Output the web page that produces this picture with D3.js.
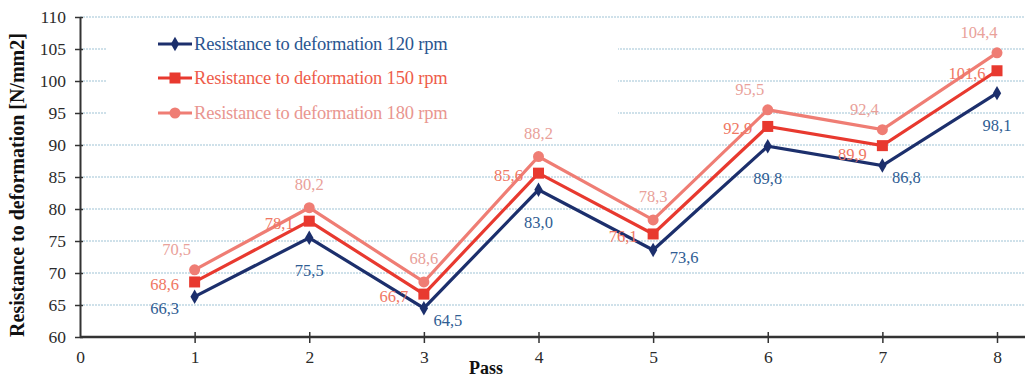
<!DOCTYPE html>
<html>
<head>
<meta charset="utf-8">
<script src="https://cdn.jsdelivr.net/npm/d3@7/dist/d3.min.js"></script>
<style>
  html, body { margin: 0; padding: 0; background: #fff; }
  svg { display: block; }
  text { font-family: "Liberation Serif", "DejaVu Serif", serif; }
</style>
</head>
<body>
<svg id="chart" width="1025" height="378"></svg>
<script>
// Resistance to deformation per pass, three rolling speeds
const passes = [1, 2, 3, 4, 5, 6, 7, 8];
const xTicks = [0, 1, 2, 3, 4, 5, 6, 7, 8];
const yTicks = [60, 65, 70, 75, 80, 85, 90, 95, 100, 105, 110];
const seriesNames = [
  "Resistance to deformation 120 rpm",
  "Resistance to deformation 150 rpm",
  "Resistance to deformation 180 rpm"
];
const rpm120 = [66.3, 75.5, 64.5, 83.0, 73.6, 89.8, 86.8, 98.1];
const rpm150 = [68.6, 78.1, 66.7, 85.6, 76.1, 92.9, 89.9, 101.6];
const rpm180 = [70.5, 80.2, 68.6, 88.2, 78.3, 95.5, 92.4, 104.4];

// where each value label sits relative to its point
const place120 = ["belowLeft", "below", "belowRight", "below", "right", "below", "belowRight", "below"];
const place150 = ["left", "left", "left", "left", "left", "left", "leftLow", "left"];
const place180 = ["aboveLeft", "above", "above", "above", "above", "aboveLeft", "aboveLeft", "aboveLeft"];

const svg = d3.select("#chart");
const W = 1025, H = 378;

const x = d3.scaleLinear().domain([0, 8]).range([80, 997]);
const y = d3.scaleLinear().domain([60, 110]).range([337, 17]);

const offsets = {
  below:      [0, 32],
  belowLeft:  [-30, 11],
  belowRight: [24, 12],
  right:      [31, 7],
  left:       [-30, 2],
  leftLow:    [-30, 8],
  above:      [0, -24],
  aboveLeft:  [-18, -21]
};

const styles = [
  { line: "#1c2f6c", label: "#2f5d93", legend: "#2a5590", marker: "diamond" },
  { line: "#e8392f", label: "#ef7763", legend: "#ee5c4a", marker: "square" },
  { line: "#ef7d74", label: "#e9a19a", legend: "#e99690", marker: "circle" }
];
const data = [rpm120, rpm150, rpm180];
const places = [place120, place150, place180];

// horizontal gridlines
svg.append("g")
  .selectAll("line")
  .data(yTicks.filter(v => v > 60))
  .join("line")
  .attr("x1", x(0)).attr("x2", W)
  .attr("y1", d => y(d)).attr("y2", d => y(d))
  .attr("stroke", "#9fc3d6")
  .attr("stroke-width", 1.2)
  .attr("stroke-dasharray", "2,1");

// legend box (opaque, covers gridlines)
const legend = svg.append("g");
legend.append("rect")
  .attr("x", 106).attr("y", 24).attr("width", 512).attr("height", 112)
  .attr("fill", "#fff");

// y axis
const yAxis = d3.axisLeft(y).tickValues(yTicks).tickSize(0).tickPadding(14);
const gy = svg.append("g").attr("transform", `translate(${x(0)},0)`).call(yAxis);
gy.select(".domain").attr("stroke", "#333").attr("stroke-width", 2);
gy.selectAll(".tick text")
  .attr("font-family", "Liberation Serif, serif")
  .attr("font-size", 17.5)
  .attr("fill", "#2b2b2b");
gy.selectAll(".tick").append("line")
  .attr("x1", -5).attr("x2", 3)
  .attr("stroke", "#333").attr("stroke-width", 1.5);

// x axis
const xAxis = d3.axisBottom(x).tickValues(xTicks).tickSize(0).tickPadding(14)
  .tickFormat(d3.format("d"));
const gx = svg.append("g").attr("transform", `translate(0,${y(60)})`).call(xAxis);
gx.select(".domain").remove();
gx.append("line")
  .attr("x1", x(0)).attr("x2", W)
  .attr("stroke", "#333").attr("stroke-width", 2.5);
gx.selectAll(".tick text")
  .attr("font-family", "Liberation Serif, serif")
  .attr("font-size", 17.5)
  .attr("fill", "#2b2b2b");
gx.selectAll(".tick").filter(d => d > 0).append("line")
  .attr("y1", -5).attr("y2", 6)
  .attr("stroke", "#333").attr("stroke-width", 1.5);

// axis titles
svg.append("text")
  .attr("transform", `translate(24,${(20 + 350) / 2}) rotate(-90)`)
  .attr("text-anchor", "middle")
  .attr("font-size", 20)
  .attr("font-weight", "bold")
  .attr("fill", "#111")
  .text("Resistance to deformation [N/mm2]");
svg.append("text")
  .attr("x", 486).attr("y", 374)
  .attr("text-anchor", "middle")
  .attr("font-size", 18)
  .attr("font-weight", "bold")
  .attr("fill", "#111")
  .text("Pass");

function drawMarker(g, kind, color) {
  if (kind === "diamond") {
    g.append("path").attr("d", d3.symbol(d3.symbolDiamond, 60)()).attr("fill", color);
  } else if (kind === "square") {
    g.append("rect").attr("x", -5.5).attr("y", -5.5).attr("width", 11).attr("height", 11).attr("fill", color);
  } else {
    g.append("circle").attr("r", 5.5).attr("fill", color);
  }
}

const line = d3.line().x(d => x(d[0])).y(d => y(d[1]));
const fmt = v => d3.format(".1f")(v).replace(".", ",");

// series lines with markers
data.forEach((vals, i) => {
  const st = styles[i];
  const pts = passes.map((p, j) => [p, vals[j]]);
  svg.append("path")
    .datum(pts)
    .attr("d", line)
    .attr("fill", "none")
    .attr("stroke", st.line)
    .attr("stroke-width", 3.2)
    .attr("stroke-linejoin", "miter");
  pts.forEach(pt => {
    const g = svg.append("g").attr("transform", `translate(${x(pt[0])},${y(pt[1])})`);
    drawMarker(g, st.marker, st.line);
  });
});

// value labels
data.forEach((vals, i) => {
  const st = styles[i];
  svg.append("g")
    .selectAll("text")
    .data(passes.map((p, j) => ({ p, v: vals[j], pl: places[i][j] })))
    .join("text")
    .attr("x", d => x(d.p) + offsets[d.pl][0])
    .attr("y", d => y(d.v) + offsets[d.pl][1] + 6)
    .attr("text-anchor", "middle")
    .attr("font-size", 16.5)
    .attr("fill", st.label)
    .text(d => fmt(d.v));
});

// legend entries
const legendRows = [44, 78, 113];
seriesNames.forEach((name, i) => {
  const st = styles[i];
  const g = legend.append("g").attr("transform", `translate(158,${legendRows[i]})`);
  g.append("line").attr("x1", 0).attr("x2", 34)
    .attr("stroke", st.line).attr("stroke-width", 3.2);
  const m = g.append("g").attr("transform", "translate(17,0)");
  drawMarker(m, st.marker, st.line);
  g.append("text")
    .attr("x", 36).attr("y", 6)
    .attr("font-size", 18.5)
    .attr("letter-spacing", -0.2)
    .attr("fill", st.legend)
    .text(name);
});
</script>
</body>
</html>
